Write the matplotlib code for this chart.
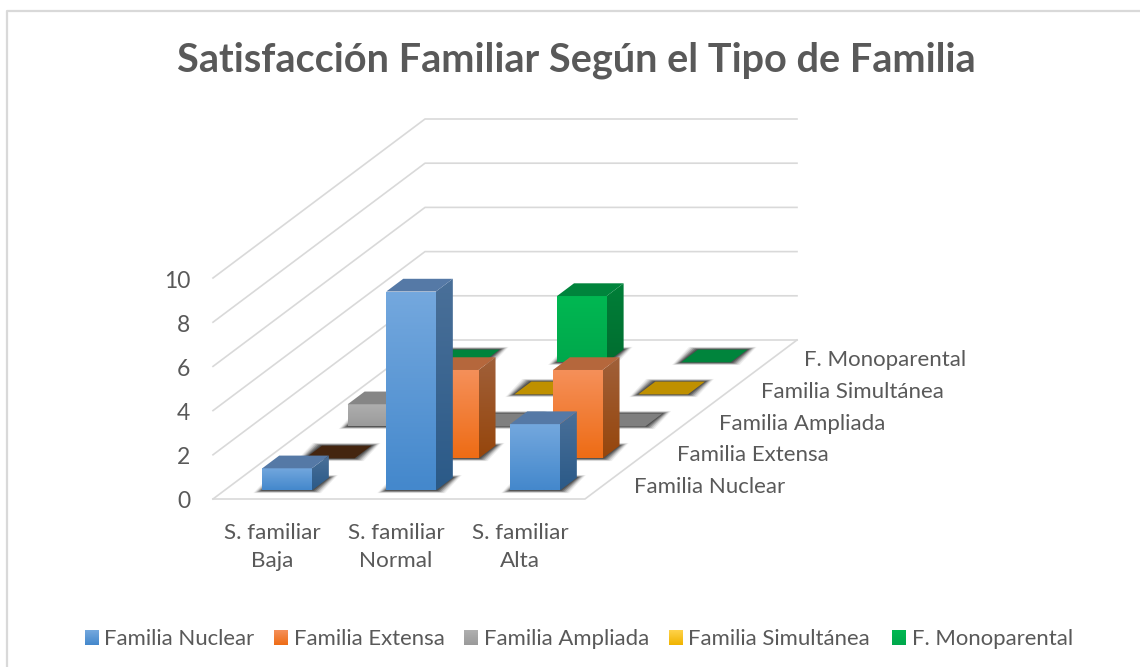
import numpy as np
import matplotlib
matplotlib.use("Agg")
import matplotlib.pyplot as plt
from matplotlib.colors import LinearSegmentedColormap
from matplotlib.patches import Polygon

plt.rcParams['font.family'] = ['Lato', 'DejaVu Sans']

title = "Satisfacción Familiar Según el Tipo de Familia"
categories = ["S. familiar\nBaja", "S. familiar\nNormal", "S. familiar\nAlta"]
series_names = ["Familia Nuclear", "Familia Extensa", "Familia Ampliada", "Familia Simultánea", "F. Monoparental"]
nuclear = [1, 9, 3]
extensa = [0, 4, 4]
ampliada = [1, 0, 0]
simultanea = [0, 0, 0]
monoparental = [0, 3, 0]
y_ticks = [0, 2, 4, 6, 8, 10]

# colours per series: front top, front bottom, side top, side bottom, top face, top face when value is 0
styles = [
    ("#74a8de", "#4488cc", "#4a7099", "#2b5a88", "#5579a6", "#2b5a88"),
    ("#f5905a", "#ee6c15", "#a0603a", "#96460c", "#b5673c", "#44250f"),
    ("#b0b0b0", "#9a9a9a", "#777777", "#666666", "#868686", "#7f7f7f"),
    ("#ffd24a", "#f0b400", "#a88200", "#8f6c00", "#bf9000", "#bf9000"),
    ("#00b852", "#00a84c", "#007f38", "#006e30", "#00843c", "#00843c"),
]
TEXT = "#595959"
GRID = "#d9d9d9"

# oblique projection, all in pixels of the 1140x667 picture
X0, Y0 = 213, 499
CAT_W = 124.0
SER_DX, SER_DY = 42.4, -31.8
UNIT = 22.1
BAR_W = 0.4
BAR_D = 0.4


def proj(cat, ser, val):
    """cat in 0..3, ser in 0..5, val in chart units -> pixel position"""
    return X0 + cat * CAT_W + ser * SER_DX, Y0 + ser * SER_DY - val * UNIT


def gradient_poly(ax, pts, c_top, c_bottom, zorder):
    pts = np.array(pts)
    cmap = LinearSegmentedColormap.from_list("g", [c_top, c_bottom])
    grad = np.linspace(0, 1, 64).reshape(-1, 1)
    im = ax.imshow(grad, cmap=cmap, aspect="auto", zorder=zorder, interpolation="bilinear",
                   extent=(pts[:, 0].min(), pts[:, 0].max(), pts[:, 1].max(), pts[:, 1].min()))
    clip = Polygon(pts, closed=True, transform=ax.transData)
    im.set_clip_path(clip)


def draw_shadow(ax, floor, zorder):
    # soft look: several grown copies of the footprint with low alpha
    floor = np.array(floor)
    sx = np.array([-1, 1, 1, -1])
    sy = np.array([1, 1, -1, -1])
    for grow, alpha in [(9, 0.08), (7.5, 0.13), (6, 0.20), (4.5, 0.28), (3, 0.36), (1.5, 0.45)]:
        pts = floor + np.c_[sx * grow, sy * grow * 0.3]
        ax.add_patch(Polygon(pts, closed=True, fc="#303030", ec="none", alpha=alpha, zorder=zorder))


def draw_bar(ax, i_cat, i_ser, value, style, zorder):
    c0 = i_cat + 0.505 - BAR_W / 2
    c1 = i_cat + 0.505 + BAR_W / 2
    # rows sit a little closer to the front than the floor grid suggests
    s0 = i_ser * 1.007 + 0.27
    s1 = s0 + BAR_D
    floor = [proj(c0, s0, 0), proj(c1, s0, 0), proj(c1, s1, 0), proj(c0, s1, 0)]
    draw_shadow(ax, floor, zorder)
    top = [proj(c0, s0, value), proj(c1, s0, value), proj(c1, s1, value), proj(c0, s1, value)]
    if value == 0:
        ax.add_patch(Polygon(top, closed=True, fc=style[5], ec="none", zorder=zorder + 0.1))
        return
    front = [proj(c0, s0, value), proj(c1, s0, value), proj(c1, s0, 0), proj(c0, s0, 0)]
    side = [proj(c1, s0, value), proj(c1, s1, value), proj(c1, s1, 0), proj(c1, s0, 0)]
    gradient_poly(ax, side, style[2], style[3], zorder + 0.1)
    gradient_poly(ax, front, style[0], style[1], zorder + 0.2)
    ax.add_patch(Polygon(top, closed=True, fc=style[4], ec="none", zorder=zorder + 0.3))


fig = plt.figure(figsize=(11.4, 6.67), dpi=100)
ax = fig.add_axes([0, 0, 1, 1])
ax.axis("off")

# outer frame, the picture cuts it off at right and bottom
ax.plot([7, 7, 1140], [667, 10.5, 10.5], color=GRID, lw=1.6, zorder=1)

# walls and floor
for v in y_ticks:
    ax.plot(*zip(proj(0, 0, v), proj(0, 5, v), proj(3, 5, v)), color=GRID, lw=1.2, zorder=2)
    x, y = proj(0, 0, v)
    ax.text(x - 23, y + 3, str(v), ha="right", va="center", fontsize=16.5, color=TEXT)
ax.plot(*zip(proj(0, 0, 0), proj(3, 0, 0), proj(3, 5, 0)), color=GRID, lw=1.2, zorder=2)

# bars, back row first
rows = [nuclear, extensa, ampliada, simultanea, monoparental]
z = 10
for i_ser in range(len(rows) - 1, -1, -1):
    for i_cat, value in enumerate(rows[i_ser]):
        draw_bar(ax, i_cat, i_ser, value, styles[i_ser], z)
        z += 1

# axis labels
for i_cat, label in enumerate(categories):
    ax.text(proj(i_cat + 0.5, 0, 0)[0] - 3, 547, label, ha="center", va="center",
            fontsize=16.2, color=TEXT, linespacing=1.45)
for i, name in enumerate(series_names):
    x, y = proj(3, i + 0.5, 0)
    ax.text(x + 28, y + 4, name, ha="left", va="center", fontsize=16, color=TEXT)

ax.text(576.5, 60, title, ha="center", va="center", fontsize=28.5, fontweight="bold", color=TEXT)

# legend
legend_x = [85, 274, 464, 669, 892]
for i, name in enumerate(series_names):
    lx = legend_x[i]
    gradient_poly(ax, [(lx, 630), (lx + 14, 630), (lx + 14, 645), (lx, 645)], styles[i][0], styles[i][1], 5)
    ax.text(lx + 19.5, 639, name, ha="left", va="center", fontsize=15.9, color=TEXT)

ax.set_xlim(0, 1140)
ax.set_ylim(667, 0)
fig.savefig("out.png", dpi=100, facecolor="white")
